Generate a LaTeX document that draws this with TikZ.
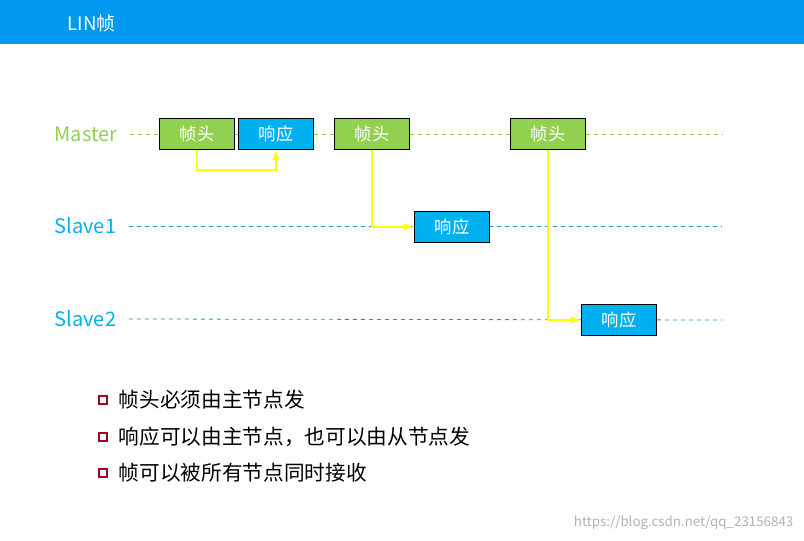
\documentclass[tikz,border=0pt]{standalone}
\usepackage{fontspec}
\setmainfont{Noto Sans CJK SC}
\usetikzlibrary{positioning}
\definecolor{barblue}{RGB}{0,153,240}
\definecolor{mgreen}{RGB}{146,208,80}
\definecolor{sblue}{RGB}{0,176,240}
\definecolor{lblue}{RGB}{40,140,210}
\definecolor{ayellow}{RGB}{255,255,0}
\definecolor{bred}{RGB}{160,0,30}
\tikzset{
  frame/.style={draw=black, thick, minimum width=75\pxu, minimum height=31\pxu, inner sep=0pt, text=white, font=\fontsize{13}{13}\selectfont},
  head/.style={frame, fill=mgreen},
  resp/.style={frame, fill=sblue},
  bus/.style={dashed, semithick},
  flow/.style={-latex, ultra thick, ayellow},
  lane/.style={anchor=west, font=\fontsize{15}{15}\selectfont},
  point/.style={font=\fontsize{15.5}{15.5}\selectfont, anchor=west}
}
\newlength{\pxu}\setlength{\pxu}{0.75pt}
\begin{document}
\begin{tikzpicture}[x=0.75pt,y=-0.75pt]
    \useasboundingbox (0,0) rectangle (804,541);
    % title bar
    \fill [barblue] (0,0) rectangle (804,44);
    \node [text=white, anchor=west, font=\fontsize{14}{14}\selectfont] (title) at (63,23) {LIN帧};

    % buses
    \node [lane, mgreen] (master) at (50,134) {Master};
    \node [lane, sblue] (slave1) at (50,226) {Slave1};
    \node [lane, sblue] (slave2) at (50,319) {Slave2};
    \coordinate (mend) at (722,134);
    \coordinate (s1end) at (722,226);
    \coordinate (s2end) at (722,320);
    \draw [bus, mgreen] ([xshift=6pt]master.east) -- (mend);
    \draw [bus, lblue] ([xshift=6pt]slave1.east) -- (s1end);
    \draw [bus, lblue] ([xshift=6pt]slave2.east) -- (s2end);

    % frames
    \node [head] (h1) at (197,134) {帧头};
    \node [resp] (r1) at (276,134) {响应};
    \node [head] (h2) at (372,134) {帧头};
    \node [resp] (r2) at (452,227) {响应};
    \node [head] (h3) at (548,134) {帧头};
    \node [resp] (r3) at (619,320) {响应};

    % responses
    \draw [flow] (h1.south) |- (236,170) -| (r1.south);
    \draw [flow] (h2.south) |- (r2.west);
    \draw [flow] (h3.south) |- (r3.west);

    % notes
    \foreach \y/\t in {400/帧头必须由主节点发, 437/响应可以由主节点，也可以由从节点发, 473/帧可以被所有节点同时接收}{
      \draw [bred, thick] (99,\y-4) rectangle (107,\y+4);
      \node [point] at (114,\y) {\t};
    }
    \node [gray!60, anchor=east, font=\fontsize{10}{10}\selectfont] (mark) at (798,523) {https://blog.csdn.net/qq\_23156843};
\end{tikzpicture}
\end{document}
